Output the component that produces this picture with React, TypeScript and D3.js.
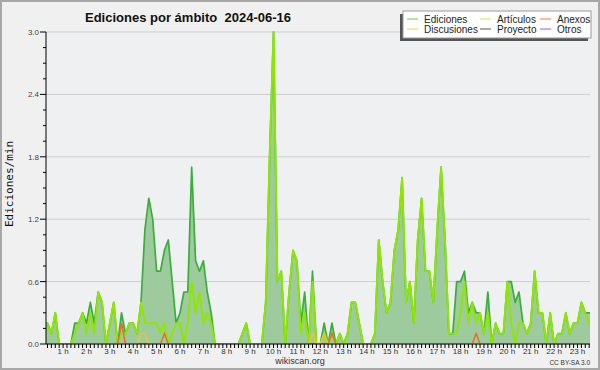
import React from "react";
import * as d3 from "d3";

// 10-minute slots, index 0 = 00:00 (rows of 12 = 2 hours)
const ediciones = [
  0.2, 0.2, 0.2, 0.1, 0.3, 0, 0, 0, 0, 0.2, 0.2, 0.3,
  0.2, 0.4, 0.2, 0.5, 0.4, 0, 0.2, 0.4, 0, 0.3, 0.1, 0.2,
  0.2, 0.1, 0.4, 1.1, 1.4, 1.2, 0.7, 0.7, 0.9, 1.0, 0.6, 0.2,
  0.3, 0.5, 0.5, 1.7, 0.8, 0.7, 0.8, 0.5, 0.3, 0, 0, 0,
  0, 0, 0, 0, 0.1, 0.2, 0, 0, 0, 0, 0.4, 1.8,
  3.0, 0.6, 0.7, 0, 0.5, 0.9, 0.8, 0.2, 0.5, 0, 0.7, 0,
  0, 0.2, 0, 0.2, 0, 0.1, 0, 0.1, 0.4, 0.4, 0.2, 0,
  0, 0, 0.1, 1.0, 0.6, 0.3, 0.4, 0.9, 1.1, 1.6, 0.4, 0.6,
  0.2, 1.0, 1.4, 0.7, 0.7, 0.4, 1.1, 1.7, 1.0, 0.1, 0.1, 0.6,
  0.6, 0.7, 0.3, 0.4, 0.3, 0.3, 0.1, 0.5, 0, 0.2, 0.1, 0.1,
  0.6, 0.6, 0.4, 0.5, 0.2, 0.1, 0.2, 0.7, 0.3, 0.3, 0, 0.3,
  0, 0.1, 0.1, 0.3, 0.1, 0.2, 0.2, 0.4, 0.3, 0.3, 0.3, 0.3,
];
const articulos = [
  0.2, 0.2, 0.2, 0.1, 0.3, 0, 0, 0, 0, 0.1, 0.2, 0.3,
  0.1, 0.3, 0.1, 0.5, 0.4, 0, 0.2, 0.4, 0, 0.1, 0.1, 0.2,
  0.2, 0.1, 0.4, 0.2, 0.2, 0.2, 0.2, 0.1, 0.2, 0, 0.1, 0.2,
  0.2, 0, 0.2, 0.6, 0.3, 0.5, 0.2, 0.3, 0.2, 0, 0, 0,
  0, 0, 0, 0, 0.1, 0.2, 0, 0, 0, 0, 0.4, 1.8,
  3.0, 0.6, 0.7, 0, 0.5, 0.9, 0.8, 0.1, 0.3, 0, 0.6, 0,
  0, 0.1, 0, 0.1, 0, 0.1, 0, 0.1, 0.4, 0.4, 0.2, 0,
  0, 0, 0.1, 1.0, 0.6, 0.3, 0.4, 0.9, 1.1, 1.6, 0.4, 0.6,
  0.2, 1.0, 1.4, 0.7, 0.7, 0.4, 1.1, 1.7, 1.0, 0.1, 0.1, 0.1,
  0.3, 0.6, 0.2, 0.4, 0.2, 0.3, 0.1, 0.3, 0, 0.2, 0.1, 0.1,
  0.6, 0.2, 0, 0.2, 0.2, 0.1, 0.2, 0.7, 0.3, 0.3, 0, 0.3,
  0, 0.1, 0.1, 0.3, 0.1, 0.2, 0.2, 0.4, 0.3, 0.2, 0.1, 0.1,
];
const anexos = [
  0, 0, 0, 0, 0, 0, 0, 0, 0, 0, 0, 0,
  0, 0, 0, 0, 0, 0, 0, 0, 0, 0.2, 0, 0,
  0, 0, 0, 0, 0, 0, 0, 0, 0.1, 0, 0, 0,
  0, 0, 0, 0, 0, 0, 0, 0, 0, 0, 0, 0,
  0, 0, 0, 0, 0, 0, 0, 0, 0, 0, 0, 0,
  0, 0, 0, 0, 0, 0, 0, 0, 0, 0, 0, 0,
  0, 0, 0, 0.1, 0, 0, 0, 0, 0, 0, 0, 0,
  0, 0, 0, 0, 0, 0, 0, 0, 0, 0, 0, 0,
  0, 0, 0, 0, 0, 0, 0, 0, 0, 0, 0, 0,
  0, 0, 0, 0, 0.1, 0, 0, 0, 0, 0, 0, 0,
  0, 0, 0, 0, 0, 0, 0, 0, 0, 0, 0, 0,
  0, 0, 0, 0, 0, 0, 0, 0, 0, 0, 0, 0,
];
const discusiones = [
  0, 0, 0, 0, 0, 0, 0, 0, 0, 0, 0, 0,
  0, 0, 0, 0, 0, 0, 0, 0, 0, 0, 0, 0,
  0, 0, 0.1, 0.1, 0, 0, 0, 0, 0, 0, 0, 0,
  0, 0, 0, 0, 0, 0, 0, 0, 0, 0, 0, 0,
  0, 0, 0, 0, 0, 0, 0, 0, 0, 0, 0, 0,
  0, 0, 0, 0, 0, 0, 0, 0, 0, 0, 0.1, 0,
  0, 0.1, 0, 0, 0, 0, 0, 0, 0, 0, 0, 0,
  0, 0, 0, 0, 0, 0, 0, 0, 0, 0, 0, 0,
  0, 0, 0, 0, 0, 0, 0, 0, 0, 0, 0, 0,
  0, 0, 0, 0, 0, 0, 0, 0, 0, 0, 0, 0,
  0, 0, 0, 0, 0, 0, 0, 0, 0, 0, 0, 0,
  0, 0, 0, 0, 0, 0, 0, 0, 0, 0, 0, 0,
];

const hours = [1, 2, 3, 4, 5, 6, 7, 8, 9, 10, 11, 12, 13, 14, 15, 16, 17, 18, 19, 20, 21, 22, 23];
const hourLabels = hours.map((h) => `${h} h`);
const yTickValues = [0, 0.6, 1.2, 1.8, 2.4, 3.0];
const yTickLabels = ["0.0", "0.6", "1.2", "1.8", "2.4", "3.0"];
const yMinorValues = [0.15, 0.3, 0.45, 0.75, 0.9, 1.05, 1.35, 1.5, 1.65, 1.95, 2.1, 2.25, 2.55, 2.7, 2.85];

const legendItems = [
  { name: "Ediciones", color: "#6cc06c" },
  { name: "Artículos", color: "#c8ec50" },
  { name: "Anexos", color: "#f07a45" },
  { name: "Discusiones", color: "#ffcc44" },
  { name: "Proyecto", color: "#555555" },
  { name: "Otros", color: "#9a55ee" },
];

export default function App() {
  const W = 600;
  const H = 370;
  const left = 46;
  const right = 590;
  const top = 32;
  const bottom = 344;

  // slot index -> pixel
  const x = d3.scaleLinear().domain([0, 144]).range([39.7, 39.7 + 144 * 3.897]);
  const y = d3.scaleLinear().domain([0, 3]).range([bottom, top]);

  const idx = d3.range(ediciones.length);
  const line = (vals: number[]) =>
    d3.line<number>().x((i) => x(i)).y((i) => y(vals[i]))(idx) || "";
  const area =
    d3
      .area<number>()
      .x((i) => x(i))
      .y0(y(0))
      .y1((i) => y(ediciones[i]))(idx) || "";

  const slotTicks = idx.filter((i) => x(i) >= left && x(i) <= right);

  const legendCols = [407, 480, 540];
  const legendRows = [19, 29];

  return (
    <svg
      width={W}
      height={H}
      style={{ position: "absolute", left: 0, top: 0 }}
      fontFamily="'Liberation Sans', Arial, sans-serif"
    >
      <defs>
        <clipPath id="plotclip">
          <rect x={left} y={top - 4} width={right - left} height={bottom - top + 4} />
        </clipPath>
      </defs>
      <rect x={0} y={0} width={W} height={H} fill="#f0f0f0" />
      <rect x={1} y={1} width={W - 2} height={H - 2} fill="none" stroke="#a8a8a8" strokeWidth={2} />
      <rect x={left} y={top} width={right - left} height={bottom - top} fill="#eff0f2" />

      {/* grid */}
      {yTickValues.map((v) => (
        <line key={"g" + v} x1={left} x2={right} y1={y(v)} y2={y(v)} stroke="#cdcdcd" strokeWidth={1} />
      ))}

      <g clipPath="url(#plotclip)">
        <path d={area} fill="#9dcb9d" />
        <path d={line(ediciones)} fill="none" stroke="#3aae3a" strokeWidth={1.7} strokeLinejoin="round" />
        <path d={line(articulos)} fill="none" stroke="#8fe600" strokeWidth={1.9} strokeLinejoin="round" />
        <path d={line(anexos)} fill="none" stroke="#ec6a2c" strokeWidth={1.5} />
        <path d={line(discusiones)} fill="none" stroke="#f6c02c" strokeWidth={1.5} />
      </g>

      {/* y axis */}
      <line x1={left} x2={left} y1={top} y2={bottom} stroke="#000" strokeWidth={1} />
      {yTickValues.map((v, k) => (
        <g key={"yt" + v}>
          <line x1={left - 6} x2={left} y1={y(v)} y2={y(v)} stroke="#000" />
          <text x={left - 7} y={y(v) + 3} fontSize={8} textAnchor="end" fill="#444">
            {yTickLabels[k]}
          </text>
        </g>
      ))}
      {yMinorValues.map((v) => (
        <line key={"ym" + v} x1={left - 3} x2={left} y1={y(v)} y2={y(v)} stroke="#000" />
      ))}
      <text
        transform="translate(13,184) rotate(-90)"
        fontSize={11}
        fontFamily="'DejaVu Sans Mono', monospace"
        textAnchor="middle"
        fill="#111"
      >
        Ediciones/min
      </text>

      {/* x axis */}
      <line x1={left} x2={right} y1={bottom} y2={bottom} stroke="#000" strokeWidth={1.2} />
      {slotTicks.map((i) => (
        <line key={"xt" + i} x1={x(i)} x2={x(i)} y1={bottom} y2={bottom + 4} stroke="#000" strokeWidth={1} />
      ))}
      {hours.map((h, k) => (
        <text key={"xl" + h} x={x(h * 6)} y={bottom + 10} fontSize={8} textAnchor="middle" fill="#333">
          {hourLabels[k]}
        </text>
      ))}

      {/* title */}
      <text x={85} y={22} fontSize={13} fontWeight="bold" textLength={206} lengthAdjust="spacingAndGlyphs" fill="#111">
        {"Ediciones por ámbito\u00A0\u00A02024-06-16"}
      </text>

      {/* legend */}
      <rect x={400} y={14} width={188} height={27} fill="#555" />
      <rect x={403} y={11} width={188} height={27} fill="#fff" stroke="#999" strokeWidth={1} />
      {legendItems.map((it, k) => {
        const cx = legendCols[k % 3];
        const cy = legendRows[Math.floor(k / 3)];
        return (
          <g key={it.name}>
            <line x1={cx} x2={cx + 11} y1={cy} y2={cy} stroke={it.color} strokeWidth={1} />
            <text x={cx + 17} y={cy + 3.5} fontSize={10} fill="#222">
              {it.name}
            </text>
          </g>
        );
      })}

      <text x={300} y={364} fontSize={9} textAnchor="middle" fill="#333">
        wikiscan.org
      </text>
      <text x={590} y={365} fontSize={6.5} textAnchor="end" fill="#333">
        CC BY-SA 3.0
      </text>
    </svg>
  );
}
